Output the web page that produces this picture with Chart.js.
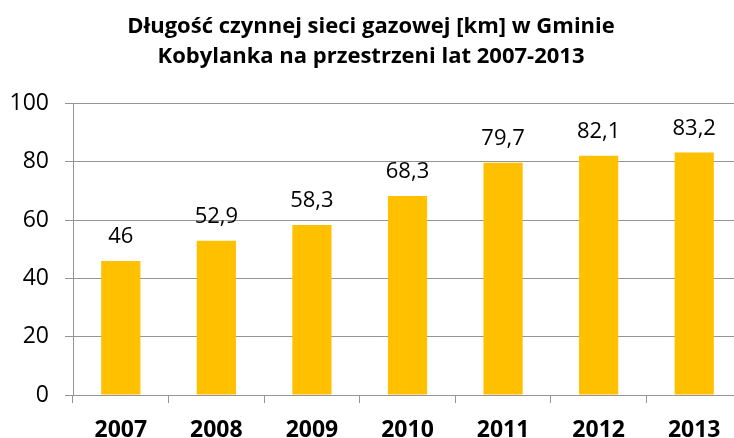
<!DOCTYPE html>
<html><head><meta charset="utf-8">
<script src="https://cdn.jsdelivr.net/npm/chart.js@4"></script>
<style>html,body{margin:0;padding:0;background:#fff;overflow:hidden}#wrap{width:734px;height:438px;overflow:hidden}</style>
</head><body><div id="wrap"><canvas id="c" width="756" height="438"></canvas></div>
<script>
const categories = ['2007','2008','2009','2010','2011','2012','2013'];
const values = [46, 52.9, 58.3, 68.3, 79.7, 82.1, 83.2];
const yTicks = [0, 20, 40, 60, 80, 100];
const titleLines = ['Długość czynnej sieci gazowej [km] w Gminie', 'Kobylanka na przestrzeni lat 2007-2013'];

const FONT = '"Open Sans", "Liberation Sans", sans-serif';
const GRID = '#959595';
const fmt = v => String(v).replace('.', ',');

const labelPlugin = {
  id: 'valLabels',
  afterDatasetsDraw(chart) {
    const ctx = chart.ctx;
    const meta = chart.getDatasetMeta(0);
    ctx.save();
    ctx.font = '22px ' + FONT;
    ctx.fillStyle = '#000';
    ctx.textAlign = 'center';
    ctx.textBaseline = 'middle';
    meta.data.forEach((bar, i) => {
      ctx.fillText(fmt(values[i]), bar.x, bar.y - 24);
    });
    ctx.restore();
  }
};

new Chart(document.getElementById('c'), {
  type: 'bar',
  data: {
    labels: categories,
    datasets: [{ data: values, backgroundColor: '#FFC000', borderWidth: 0,
      categoryPercentage: 1, barPercentage: 0.41 }]
  },
  options: {
    responsive: false,
    animation: false,
    layout: { padding: { left: 0, right: 14, top: 0, bottom: 0 } },
    plugins: {
      legend: { display: false },
      tooltip: { enabled: false },
      title: { display: true, text: titleLines, color: '#000',
        font: { family: FONT, size: 22, weight: 'bold', lineHeight: 1.4 },
        padding: { top: 11, bottom: 31 } }
    },
    scales: {
      x: {
        afterFit(axis) { axis.height = 43; },
        grid: { offset: true, drawOnChartArea: false, drawTicks: true, tickLength: 8, color: GRID },
        border: { color: GRID, width: 1 },
        ticks: { color: '#000', font: { family: FONT, size: 23, weight: 'bold' }, padding: 14 }
      },
      y: {
        min: 0, max: 100,
        afterFit(axis) { axis.width = 73; },
        afterBuildTicks(axis) { axis.ticks = yTicks.map(v => ({ value: v })); },
        grid: { color: GRID, tickLength: 8 },
        border: { color: GRID, width: 1 },
        ticks: { color: '#000', font: { family: FONT, size: 23 }, padding: 16 }
      }
    }
  },
  plugins: [labelPlugin]
});
</script></body></html>
